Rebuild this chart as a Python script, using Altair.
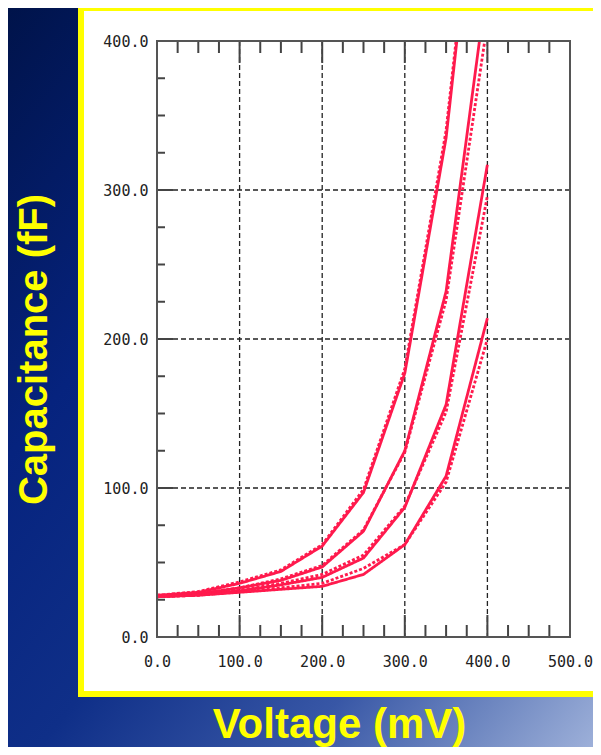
import altair as alt
import pandas as pd

# ---- data ----
voltage = [0, 50, 100, 150, 200, 250, 300, 350, 400]

solid_1 = [28, 30, 36, 44, 61, 97, 177, 335, 585]
solid_2 = [27.5, 29, 33, 38, 47, 71, 125, 232, 440]
solid_3 = [27, 28.5, 31, 35, 40, 53, 87, 156, 317]
solid_4 = [27, 28, 30, 32, 34, 42, 62, 108, 214]

dotted_1 = [28, 30.5, 37, 45, 62, 99, 180, 340, 590]
dotted_2 = [27.5, 29, 33, 39, 48, 72, 124, 226, 412]
dotted_3 = [27, 28.5, 31.5, 36, 42, 55, 88, 151, 296]
dotted_4 = [27, 28, 30.5, 33, 36, 46, 62, 104, 200]

x_labels = [0, 100, 200, 300, 400, 500]
y_labels = [0, 100, 200, 300, 400]
x_grid = [100, 200, 300, 400]
y_grid = [100, 200, 300]
x_minor = [25, 50, 75, 125, 150, 175, 225, 250, 275, 325, 350, 375, 425, 450, 475]
y_minor = [25, 50, 75, 125, 150, 175, 225, 250, 275, 325, 350, 375]

# ---- layout ----
W, H = 413, 596
PL, PT, PR, PB = 149, 33, 23, 110
RED = "#ff1a4d"
YELLOW = "#ffff00"

rows = []
for name, kind, vals in [
    ("A", "solid", solid_1), ("B", "solid", solid_2),
    ("C", "solid", solid_3), ("D", "solid", solid_4),
    ("A", "dotted", dotted_1), ("B", "dotted", dotted_2),
    ("C", "dotted", dotted_3), ("D", "dotted", dotted_4),
]:
    for v, c in zip(voltage, vals):
        rows.append({"V": v, "C": c, "series": name + kind, "kind": kind})
curves = pd.DataFrame(rows)

xs = alt.Scale(domain=[0, 500], nice=False, zero=False)
ys = alt.Scale(domain=[0, 400], nice=False, zero=False)

x_axis = alt.Axis(
    values=x_labels, format=".1f", ticks=False, tickSize=0, domain=False, grid=False,
    labelFont="DejaVu Sans Mono", labelFontSize=15, labelColor="#222222",
    labelPadding=17, labelFlush=False, labelOverlap=False,
    title="Voltage (mV)", titleFont="Liberation Sans", titleFontWeight="bold",
    titleFontSize=42, titleColor=YELLOW, titleX=182, titleY=100,
    titleAlign="center", titleBaseline="alphabetic", zindex=1,
)
y_axis = alt.Axis(
    values=y_labels, format=".1f", ticks=False, tickSize=0, domain=False, grid=False,
    labelFont="DejaVu Sans Mono", labelFontSize=15, labelColor="#222222",
    labelPadding=9, labelOverlap=False, labelFlush=False,
    title="Capacitance (fF)", titleFont="Liberation Sans", titleFontWeight="bold",
    titleFontSize=40, titleColor=YELLOW, titleAngle=270, titleX=-123, titleY=308,
    titleAlign="center", titleBaseline="middle", zindex=1,
)

def X():
    return alt.X("V:Q", scale=xs, axis=x_axis)

def Y():
    return alt.Y("C:Q", scale=ys, axis=y_axis)

one = pd.DataFrame({"k": [0]})

gradient = alt.LinearGradient(
    gradient="linear",
    stops=[
        alt.GradientStop(offset=0, color="#00134a"),
        alt.GradientStop(offset=0.3, color="#06237e"),
        alt.GradientStop(offset=0.52, color="#0f2f88"),
        alt.GradientStop(offset=0.74, color="#3857a6"),
        alt.GradientStop(offset=0.87, color="#6d86c0"),
        alt.GradientStop(offset=1, color="#a3b5dc"),
    ],
    x1=0, y1=0, x2=1, y2=1,
)

bg = alt.Chart(one).mark_rect(fill=gradient).encode(
    x=alt.value(-PL), x2=alt.value(W + PR + 10),
    y=alt.value(-PT), y2=alt.value(H + PB + 10),
)

frame = alt.Chart(one).mark_rect(fill="white", stroke=YELLOW, strokeWidth=6).encode(
    x=alt.value(-76), x2=alt.value(W + 60),
    y=alt.value(-33), y2=alt.value(653),
)

vgrid = alt.Chart(pd.DataFrame({"V": x_grid})).mark_rule(
    color="#222222", strokeDash=[5, 3], strokeWidth=1.3
).encode(x=X())
hgrid = alt.Chart(pd.DataFrame({"C": y_grid})).mark_rule(
    color="#222222", strokeDash=[5, 3], strokeWidth=1.3
).encode(y=Y())

lines = alt.Chart(curves).mark_line(clip=True, strokeWidth=2.8, color=RED).encode(
    x=X(), y=Y(),
    detail="series:N",
    strokeDash=alt.StrokeDash(
        "kind:N",
        scale=alt.Scale(domain=["solid", "dotted"], range=[[1, 0], [3, 2]]),
        legend=None,
    ),
)

TICK = "#444444"
bot_minor = alt.Chart(pd.DataFrame({"V": x_minor})).mark_rule(color=TICK, strokeWidth=2).encode(
    x=X(), y=alt.value(H), y2=alt.value(H - 12))
top_minor = alt.Chart(pd.DataFrame({"V": x_minor})).mark_rule(color=TICK, strokeWidth=2).encode(
    x=X(), y=alt.value(0), y2=alt.value(12))
bot_major = alt.Chart(pd.DataFrame({"V": x_grid})).mark_rule(color=TICK, strokeWidth=2).encode(
    x=X(), y=alt.value(H), y2=alt.value(H - 22))
top_major = alt.Chart(pd.DataFrame({"V": x_grid})).mark_rule(color=TICK, strokeWidth=2).encode(
    x=X(), y=alt.value(0), y2=alt.value(22))
left_minor = alt.Chart(pd.DataFrame({"C": y_minor})).mark_rule(color=TICK, strokeWidth=2).encode(
    y=Y(), x=alt.value(0), x2=alt.value(8))
left_major = alt.Chart(pd.DataFrame({"C": y_grid})).mark_rule(color=TICK, strokeWidth=2).encode(
    y=Y(), x=alt.value(0), x2=alt.value(16))

border = alt.Chart(one).mark_rect(fillOpacity=0, stroke="#555555", strokeWidth=2).encode(
    x=alt.value(0), x2=alt.value(W), y=alt.value(0), y2=alt.value(H),
)

chart = alt.layer(
    bg, frame, vgrid, hgrid, lines,
    bot_minor, top_minor, bot_major, top_major, left_minor, left_major, border,
).properties(
    width=W, height=H,
    padding={"left": PL, "top": PT, "right": PR, "bottom": PB},
    autosize=alt.AutoSizeParams(type="none"),
    background="#0f2f88",
).configure_view(strokeWidth=0)

chart.save("out.html", embed_options={"renderer": "svg", "actions": False})
